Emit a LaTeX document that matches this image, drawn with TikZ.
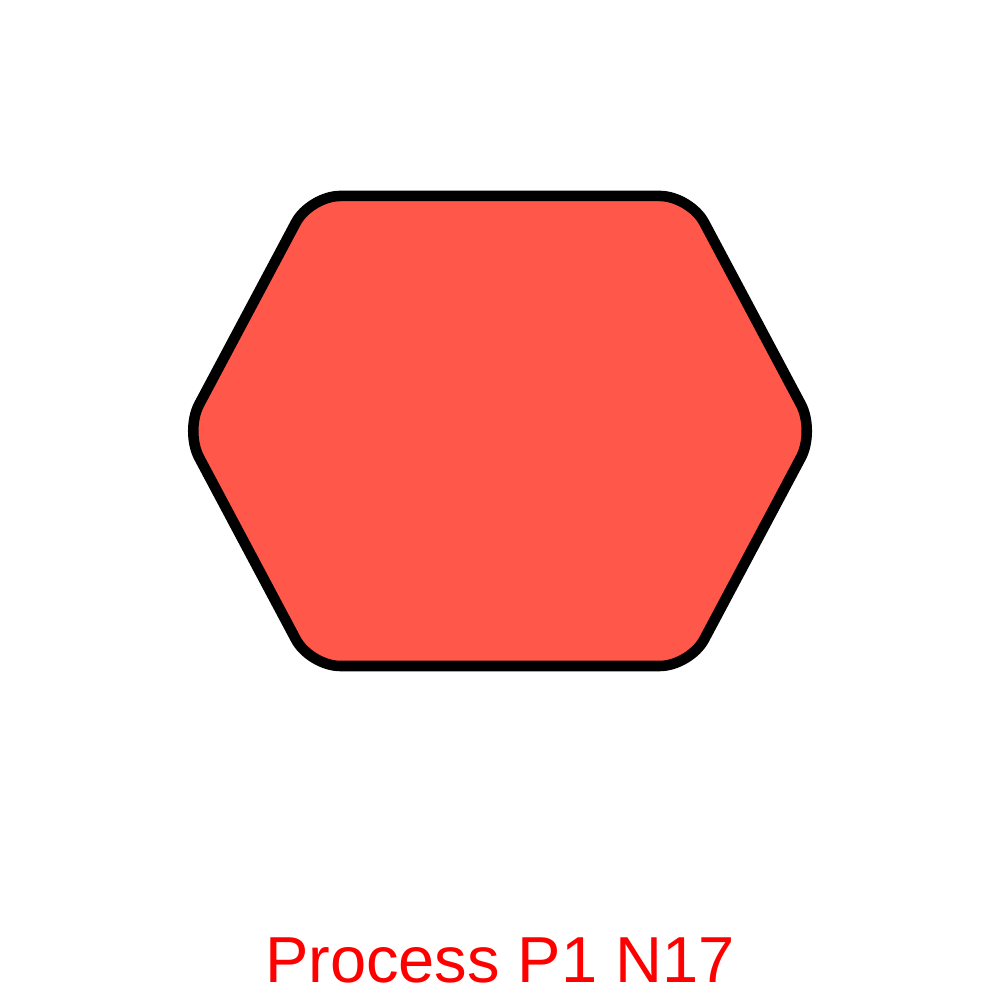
\documentclass[tikz,border=0pt]{standalone}
\usepackage{fontspec}
\setmainfont{Liberation Sans}
\definecolor{procred}{RGB}{255,87,73}
\definecolor{labred}{RGB}{255,0,0}
\begin{document}
\begin{tikzpicture}[line width=3pt,line join=round]
      \useasboundingbox (0,0) rectangle (10,10);
      \draw[fill=procred,rounded corners=.3cm] (1.85,5.69) -- (3.1,8.04) -- (6.9,8.04)
      -- (8.15,5.69) -- (6.9,3.34) -- (3.1,3.34) -- cycle;
      \node[anchor=base,text=labred,font=\fontsize{18.5}{22}\selectfont,inner sep=0pt] (lab) at (5,.18) {Process P1 N17};
\end{tikzpicture}
\end{document}
